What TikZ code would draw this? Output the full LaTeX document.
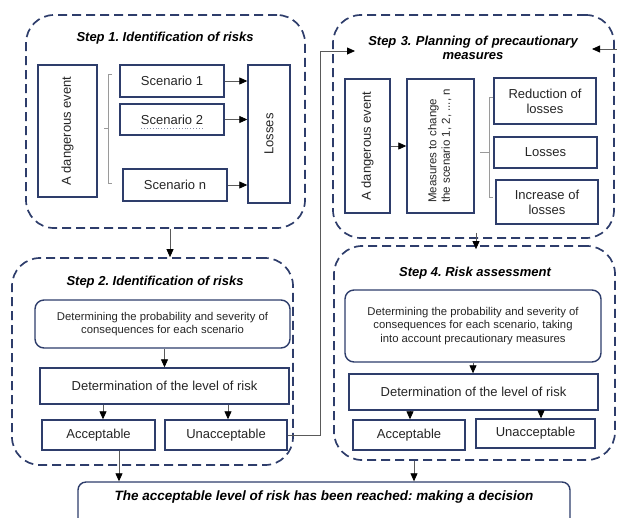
\documentclass[tikz,border=0pt]{standalone}
\usepackage{fontspec}
\setmainfont{Liberation Sans}
\usetikzlibrary{arrows.meta,calc}
\definecolor{navy}{HTML}{2E3D6B}
\definecolor{conn}{HTML}{5A5A5A}
\definecolor{txt}{HTML}{262626}
\definecolor{brkc}{HTML}{9A9A9A}
\frenchspacing
\begin{document}
\begin{tikzpicture}[x=1pt,y=-1pt,
  stepbox/.style={draw=navy, line width=1.7pt, dash pattern=on 9pt off 5pt, rounded corners=28pt, inner sep=0pt},
  box/.style={draw=navy, line width=1.4pt, fill=white, inner sep=2pt, align=center, text=txt, font=\fontsize{13}{15}\selectfont},
  rbox/.style={box, rounded corners=9pt, font=\fontsize{11.3}{13.5}\selectfont},
  ttl/.style={font=\fontsize{13}{15}\selectfont\bfseries\itshape, align=center, text=black, inner sep=0pt},
  arr/.style={draw=conn, line width=0.8pt, -{Triangle[length=8pt,width=7pt,color=black]}},
  brk/.style={draw=brkc, line width=0.8pt}
]
\useasboundingbox (0,0) rectangle (617,517);
\clip (0,0) rectangle (617,517);

% ---------- Step 1 ----------
\node[stepbox, minimum width=279pt, minimum height=213pt] (s1) at (165.5,121.5) {};
\node[ttl] (t1) at (165,38) {Step 1. Identification of risks};
\node[box, minimum width=59pt, minimum height=132pt] (ev1) at (67.5,131) {\rotatebox{90}{A dangerous event}};
\node[box, minimum width=104pt, minimum height=32pt] (sc1) at (172,81) {Scenario 1};
\node[box, minimum width=104pt, minimum height=31pt] (sc2) at (172,119.5) {Scenario 2};
\node[box, minimum width=104pt, minimum height=32pt] (scn) at (175,185) {Scenario n};
\node[box, minimum width=42pt, minimum height=138pt] (loss1) at (269,134) {\rotatebox{90}{Losses}};
\draw[navy!60, line width=0.9pt, dotted] (141,128) -- (203,128);
\draw[brk] (112,74) -- (108,74) -- (108,183) -- (112,183);
\draw[brk] (108,128) -- (104,128);
\draw[arr] (sc1.east) -- (sc1.east -| loss1.west);
\draw[arr] (sc2.east) -- (sc2.east -| loss1.west);
\draw[arr] (scn.east) -- (scn.east -| loss1.west);

% ---------- Step 2 ----------
\node[stepbox, minimum width=281pt, minimum height=207pt] (s2) at (152.5,361.5) {};
\node[ttl] (t2) at (155,282) {Step 2. Identification of risks};
\node[rbox, minimum width=255pt, minimum height=48pt] (prob2) at (162.5,324) {Determining the probability and severity of\\consequences for each scenario};
\node[box, minimum width=249pt, minimum height=36pt] (det2) at (164.5,386) {Determination of the level of risk};
\node[box, minimum width=113pt, minimum height=30pt] (acc2) at (98.5,435) {Acceptable};
\node[box, minimum width=122pt, minimum height=30pt] (unacc2) at (226,435) {Unacceptable};

% ---------- Step 3 ----------
\node[stepbox, minimum width=281pt, minimum height=223pt] (s3) at (473.5,126.5) {};
\node[ttl, text width=260pt] (t3) at (473,47.5) {Step 3. Planning of precautionary\\[-1pt]measures};
\node[box, minimum width=45pt, minimum height=134pt] (ev3) at (367.5,146) {\rotatebox{90}{A dangerous event}};
\node[box, minimum width=67pt, minimum height=134pt, font=\fontsize{11.5}{13.5}\selectfont] (meas) at (440.5,146) {\rotatebox{90}{\begin{tabular}{@{}l@{}}Measures to change\\the scenario 1, 2, ..., n\end{tabular}}};
\node[box, minimum width=102pt, minimum height=46pt] (red) at (545,101) {Reduction of\\losses};
\node[box, minimum width=103pt, minimum height=31pt] (loss3) at (545.5,152.5) {Losses};
\node[box, minimum width=102pt, minimum height=44pt] (inc) at (547,202) {Increase of\\losses};
\draw[brk] (493,97) -- (489,97) -- (489,197) -- (493,197);
\draw[brk] (489,152) -- (480,152);
\draw[arr] (ev3.east) -- (ev3.east -| meas.west);

% ---------- Step 4 ----------
\node[stepbox, minimum width=281pt, minimum height=214pt] (s4) at (474.5,353) {};
\node[ttl] (t4) at (475,273) {Step 4. Risk assessment};
\node[rbox, minimum width=256pt, minimum height=72pt] (prob4) at (473,326) {Determining the probability and severity of\\consequences for each scenario, taking\\into account precautionary measures};
\node[box, minimum width=249pt, minimum height=36pt] (det4) at (473.5,392) {Determination of the level of risk};
\node[box, minimum width=112pt, minimum height=30pt] (acc4) at (409,435) {Acceptable};
\node[box, minimum width=119pt, minimum height=29pt] (unacc4) at (535.5,433.5) {Unacceptable};

% ---------- Final ----------
\node[box, rounded corners=8pt, minimum width=492pt, minimum height=48pt] (final) at (324,506) {};
\node[ttl, font=\fontsize{13.5}{16}\selectfont\bfseries\itshape] (finaltxt) at (324,497) {The acceptable level of risk has been reached: making a decision};

% ---------- Connectors ----------
\coordinate (s3in) at (355,51);
\coordinate (rin) at (617,49);
\coordinate (rtip) at (592,49);
\draw[arr] ([xshift=4.5pt]s1.south) -- ([xshift=4.5pt]s1.south |- s2.north);
\draw[arr] (det2.north |- prob2.south) -- (det2.north);
\draw[arr] ([xshift=4.5pt]acc2.north |- det2.south) -- ([xshift=4.5pt]acc2.north);
\draw[arr] ([xshift=2pt]unacc2.north |- det2.south) -- ([xshift=2pt]unacc2.north);
\draw[arr] ([xshift=20.5pt]acc2.south) -- ([xshift=20.5pt]acc2.south |- final.north);
\draw[arr] (unacc2.east) -- ++(33,0) |- (s3in);
\draw[arr] (rin) -- (rtip);
\draw[arr] ([xshift=2.5pt,yshift=6pt]s3.south) -- ([xshift=1.5pt,yshift=-4pt]s4.north);
\draw[arr] (prob4.south) -- (prob4.south |- det4.north);
\draw[arr] ([xshift=1pt]acc4.north |- det4.south) -- ([xshift=1pt]acc4.north);
\draw[arr] ([xshift=5.5pt]unacc4.north |- det4.south) -- ([xshift=5.5pt]unacc4.north);
\draw[arr] ([xshift=-60.5pt]s4.south) -- ([xshift=-60.5pt]s4.south |- final.north);
\end{tikzpicture}
\end{document}
